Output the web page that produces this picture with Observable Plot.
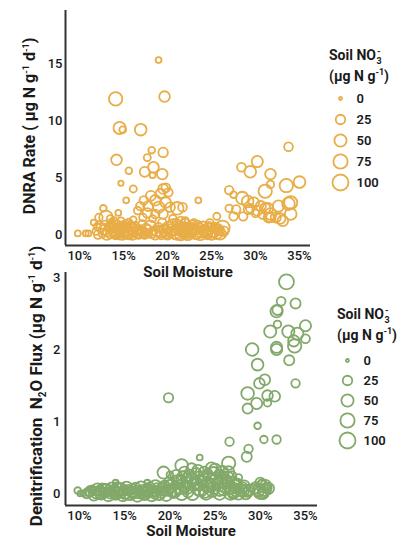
<!DOCTYPE html>
<html><head><meta charset="utf-8">
<script src="https://cdn.jsdelivr.net/npm/d3@7"></script>
<script src="https://cdn.jsdelivr.net/npm/@observablehq/plot@0.6"></script>
<style>
body{margin:0;background:#fff;}
#wrap{position:relative;width:414px;height:539px;overflow:hidden;font-family:Roboto,"Liberation Sans",sans-serif;color:#1a1a1a;}
.abs{position:absolute;}
svg{overflow:visible;}
.ltitle{font-weight:700;font-size:14px;line-height:16px;white-space:nowrap;}
.sup{position:relative;font-size:9px;top:-6px;margin-left:1px;}
.sub{position:relative;font-size:9px;top:4px;margin-left:-4px;}
.ltitle sup,.atitle sup{font-size:9px;line-height:0;}
.atitle{font-weight:700;font-size:15px;white-space:nowrap;line-height:16px;}
</style></head><body><div id="wrap"></div>
<script>
// ---------- data ----------
const moistureTicks = [10, 15, 20, 25, 30, 35];
const dnraTicks = [0, 5, 10, 15];
const n2oTicks = [0, 1, 2, 3];
const legendValues = [0, 25, 50, 75, 100];

const xTitle = "Soil Moisture";
const dnraTitle = "DNRA Rate ( μg N g<sup>-1</sup> d<sup>-1</sup>)";
const n2oTitle = "Denitrification&nbsp; N<sub style='font-size:10px;line-height:0'>2</sub>O Flux (μg N g<sup>-1</sup> d<sup>-1</sup>)";
const legendLine1 = 'Soil NO<span class="sup">-</span><span class="sub">3</span>';
const legendLine2 = '(μg N g<sup>-1</sup>)';

// [soil moisture %, DNRA rate, soil NO3]
const dnraHigh = [
 [18.98,15.3,5],[14.1,11.9,64],[19.66,12.1,35],[14.55,9.35,50],[14.9,9.2,8],[16.95,9.2,45],
 [14.2,6.55,35],[19.5,7.2,25],[18.2,7.4,8],[17.7,6.75,10],[15.6,5.6,8],[17.4,5.5,28],[18.4,5.9,35],
 [19.4,5.3,35],[18.3,5.2,5],[14.7,4.5,3],[16.1,4.0,10],[15.3,3.0,5],[19.5,4.0,28],[19.8,4.1,20],
 [20.1,3.7,18],[19.2,3.6,25],[18.1,3.4,28],[17.3,3.0,18],[18.6,3.0,35],[19.8,2.8,35],[16.9,2.5,18],
 [17.8,2.5,28],[19.0,2.4,40],[20.3,2.4,25],[21.1,2.3,55],[16.6,2.1,12],[17.7,1.9,25],[18.6,1.8,18],
 [19.5,1.8,25],[17.2,1.5,12],[18.3,1.4,10],[19.4,1.05,18],[20.6,1.4,12],[21.5,1.2,18],[22.0,1.2,12],
 [23.5,3.0,5],[21.7,2.4,20]
];
const dnraLeft = [
 [9.8,0.1,5],[10.7,0.1,5],[11.0,0.1,5],[12.7,2.3,8],[13.0,1.5,66],[12.2,1.5,12],[11.6,1.05,5],
 [13.5,1.4,10],[14.4,1.9,5],[13.9,1.2,12],[14.7,1.2,10],[15.6,1.1,8],[16.1,1.3,8],[15.2,0.6,10]
];
const dnraBand = [
 [11.9,0.3,12],[12.4,0.6,20],[12.6,0.1,15],[12.9,0.8,25],[13.2,0.3,30],[13.5,0.05,20],[13.7,0.6,35],
 [14.0,0.2,40],[14.2,0.9,20],[14.45,0.4,28],[14.6,0.0,30],[14.85,0.65,45],[15.0,0.2,35],[15.25,0.9,15],
 [15.4,0.35,50],[15.6,0.0,25],[15.85,0.5,30],[16.05,0.15,20],[16.3,0.75,15],[16.55,0.1,25],[16.8,0.45,20],
 [17.1,0.95,10],[17.25,0.2,30],[17.55,0.55,25],[17.8,0.1,15],[18.05,0.75,40],[18.35,0.3,20],[18.6,0.0,30],
 [18.95,0.6,25],[19.2,0.2,35],[19.55,0.5,20],[19.85,0.1,30],[20.1,0.65,40],[20.35,0.25,25],[20.6,0.9,30],
 [20.9,0.4,35],[21.1,0.05,45],[21.4,0.75,30],[21.7,0.3,40],[22.0,0.0,25],[22.25,0.6,35],[22.5,0.2,30],
 [22.8,0.85,20],[23.05,0.4,40],[23.3,0.05,30],[23.55,0.6,25],[23.8,0.2,35],[24.05,0.7,30],[24.3,0.3,45],
 [24.55,0.0,25],[24.8,0.5,35],[25.05,0.2,30],[25.35,0.65,20],[25.6,0.1,40],[25.9,0.35,25],[21.9,0.45,55],
 [23.0,1.0,15],[14.3,0.3,60],[16.0,0.5,45],[22.6,0.3,60],
 [12.1,0.0,18],[12.8,0.4,30],[13.1,0.0,35],[13.4,0.7,20],[13.9,0.4,45],[14.1,0.0,25],[14.6,0.5,40],
 [14.9,0.1,55],[15.1,0.6,25],[15.5,0.15,40],[15.7,0.7,20],[16.0,0.0,35],[16.4,0.35,30],[16.7,0.0,20],
 [17.0,0.3,25],[17.4,0.0,20],[17.7,0.4,30],[18.2,0.1,25],[18.8,0.3,35],[19.3,0.0,25],[19.7,0.35,45],
 [20.0,0.0,30],[20.5,0.4,50],[20.8,0.1,40],[21.2,0.5,35],[21.5,0.0,45],[21.9,0.2,30],[22.3,0.0,40],
 [22.7,0.5,45],[23.1,0.15,50],[23.4,0.8,25],[23.7,0.0,40],[24.0,0.4,30],[24.4,0.1,35],[24.7,0.7,25],
 [25.0,0.0,35],[25.3,0.3,45],[25.7,0.5,30],[26.0,0.05,40],[26.4,0.3,25],[22.0,0.9,35],[21.0,1.0,20],
 [24.8,1.0,15],[12.0,0.7,10],[13.6,1.0,15]
];
const dnraWet = [
 [33.75,7.7,20],[28.4,5.9,20],[29.4,5.5,45],[30.2,6.4,40],[31.7,5.3,35],[31.7,4.4,12],[31.1,3.8,64],
 [33.5,4.3,64],[35.0,4.6,45],[27.0,3.9,18],[27.5,3.5,8],[28.5,3.2,55],[29.1,2.9,45],[29.8,2.8,35],
 [27.8,2.2,18],[29.2,2.2,25],[30.2,2.1,30],[31.1,2.3,35],[31.7,1.8,45],[32.6,2.5,40],[33.75,2.7,55],
 [34.0,1.8,45],[32.8,1.4,35],[31.7,1.5,25],[30.8,1.75,18],[27.0,2.3,12],[27.5,1.6,18],[28.6,1.6,18],
 [30.0,1.85,12],[25.6,1.6,10],[26.25,0.6,75],[25.2,0.2,35],[24.5,0.35,20],[31.4,2.3,35],[32.3,1.5,30],
 [33.1,1.2,35],[31.5,1.5,30],[34.0,2.8,60],[30.6,2.5,30],[29.4,2.3,20]
];

// [soil moisture %, N2O flux, soil NO3]
const n2oUpper = [
 [32.9,2.94,85],[32.3,2.67,20],[33.9,2.64,30],[31.8,2.53,50],[31.9,2.55,30],[31.9,2.35,12],[31.1,2.25,50],
 [33.1,2.25,50],[35.0,2.33,40],[34.1,2.22,50],[35.0,2.15,20],[33.7,2.12,40],[33.8,2.05,64],[31.8,2.03,40],
 [31.8,2.0,40],[29.1,2.0,55],[29.7,1.79,45],[33.2,1.85,30],[30.5,1.58,35],[29.9,1.53,35],[33.9,1.53,18],
 [28.6,1.39,55],[30.8,1.36,35],[31.6,1.35,35],[29.6,1.25,40],[28.6,1.18,30],[30.8,1.26,12],[29.7,0.94,8],
 [30.4,0.75,12],[31.8,0.75,18],[26.6,0.72,18],[28.7,0.62,18],[28.5,0.51,30],[23.3,0.5,5],[26.5,0.42,64],
 [27.6,0.22,10],[19.85,1.33,24],[21.3,0.39,55],[19.3,0.29,50],[14.0,0.15,5],[17.5,0.15,5],[9.8,0.04,8],
 [10.1,0.0,5],[10.4,0.0,5],[20.0,0.26,8]
];
const n2oBand = [
 [11.0,0.02,15],[11.4,0.05,20],[11.8,0.0,25],[12.2,0.04,30],[12.6,0.01,25],[13.0,0.06,35],[13.4,0.0,30],
 [13.8,0.04,40],[14.2,0.02,30],[14.6,0.07,35],[15.0,0.0,40],[15.4,0.05,30],[15.8,0.02,35],[16.2,0.08,30],
 [16.6,0.01,40],[17.0,0.05,30],[17.4,0.02,35],[17.8,0.09,25],[18.2,0.03,40],[18.6,0.07,35],[19.0,0.01,30],
 [19.4,0.1,40],[19.8,0.04,35],[20.2,0.13,30],[20.5,0.02,45],[20.8,0.18,35],[21.1,0.07,40],[21.4,0.24,30],
 [21.7,0.1,45],[22.0,0.02,35],[22.3,0.2,40],[22.6,0.12,50],[22.9,0.28,35],[23.2,0.05,45],[23.5,0.17,40],
 [23.8,0.3,35],[24.1,0.1,50],[24.4,0.22,45],[24.7,0.03,40],[25.0,0.33,50],[25.3,0.15,45],[25.6,0.25,40],
 [25.9,0.06,50],[26.2,0.18,45],[26.5,0.3,40],[26.8,0.08,50],[27.1,0.02,45],[27.4,0.12,40],[27.8,0.05,50],
 [28.2,0.1,45],[28.6,0.03,40],[29.5,0.08,40],[30.0,0.15,30],[30.2,0.1,45],[30.5,0.05,50],[30.9,0.07,40],
 [30.4,0.02,35],[24.8,0.28,55],[27.0,0.0,35],[28.1,0.04,45],[30.2,0.14,18],[30.0,0.01,55],[30.7,0.08,30],
 [29.3,0.06,25],[25.5,0.05,50],[23.9,0.02,45],[22.4,0.35,30],[21.9,0.15,40],
 [10.8,0.0,25],[11.2,0.03,35],[11.6,-0.02,40],[12.0,0.06,45],[12.4,0.0,50],[12.8,0.05,45],[13.2,-0.02,55],
 [13.6,0.07,50],[14.0,0.0,55],[14.4,0.05,60],[14.8,-0.02,55],[15.2,0.08,50],[15.6,0.0,60],[16.0,0.04,55],
 [16.4,-0.03,50],[16.8,0.08,55],[17.2,0.0,60],[17.6,0.05,50],[18.0,-0.02,55],[18.4,0.1,50],[18.8,0.0,60],
 [19.2,0.06,55],[19.6,-0.02,50],[20.0,0.1,55],[20.4,0.05,60],[20.7,0.25,40],[21.0,0.15,55],[21.3,0.0,60],
 [21.6,0.3,35],[21.9,0.08,55],[22.2,0.25,45],[22.5,0.0,60],[22.8,0.15,55],[23.1,0.32,40],[23.4,0.05,60],
 [23.7,0.22,50],[24.0,0.0,55],[24.3,0.12,60],[24.6,0.35,45],[24.9,0.08,55],[25.2,0.2,60],[25.5,0.0,55],
 [25.8,0.3,45],[26.1,0.1,60],[26.4,0.22,50],[26.7,0.0,55],[27.0,0.15,45],[27.3,0.05,55],[27.6,0.0,50],
 [28.0,0.08,40],[28.4,0.0,45],[28.8,0.05,35],[29.8,0.04,45],[30.3,0.0,40],[30.6,0.12,30],[12.5,0.08,20],
 [14.2,0.09,25],[16.2,0.0,20],[18.3,0.04,30],[19.9,0.15,35],
 [11.1,0.01,12],[11.5,0.04,15],[11.9,0.02,10],[12.3,-0.01,18],[12.7,0.03,15],[13.1,0.02,20],[13.5,0.05,12],
 [13.9,-0.01,18],[14.3,0.03,20],[14.7,0.0,15],[15.1,0.04,22],[15.5,0.02,12],[15.9,-0.01,20],[16.3,0.05,15],
 [16.7,0.03,22],[17.1,-0.01,15],[17.5,0.06,20],[17.9,0.03,12],[18.3,-0.01,22],[18.7,0.04,15],[19.1,0.08,20],
 [19.5,0.02,12],[19.9,0.06,22],[20.3,0.0,18],[20.6,0.12,15],[21.2,0.2,22],[21.5,0.05,15],[21.8,0.22,20],
 [22.1,0.12,15],[22.7,0.2,22],[23.0,0.1,15],[23.3,0.25,20],[23.6,0.12,15],[24.2,0.28,22],[24.5,0.15,18],
 [25.1,0.1,20],[25.4,0.28,15],[25.7,0.15,22],[26.0,0.25,15],[26.3,0.05,20],[26.6,0.12,18],[26.9,0.25,15],
 [27.2,0.08,20],[27.5,0.15,15]
];

// ---------- drawing ----------
const orange = "#E8AD47";
const green = "#83A96A";
const axisColor = "#333";
const font = "Roboto, 'Liberation Sans', sans-serif";
const baseStyle = {fontFamily: font, fontSize: "13px", fontWeight: 500, color: "#1a1a1a", background: "transparent", overflow: "visible"};
const rScale = {type: "sqrt", domain: [0, 100], range: [1.5, 8]};
const pct = d => d + "%";

function panel({data, color, width, height, mb, xDomain, yDomain, yTicks, xPad, yPad}) {
  return Plot.plot({
    width, height, marginLeft: 65, marginRight: 10, marginTop: 10, marginBottom: mb,
    style: baseStyle,
    x: {domain: xDomain, ticks: moistureTicks, tickFormat: pct, tickSize: 0, tickPadding: xPad, label: null},
    y: {domain: yDomain, ticks: yTicks, tickFormat: d => String(d), tickSize: 0, tickPadding: yPad, label: null},
    r: rScale,
    marks: [
      Plot.dot(data, {x: d => d[0], y: d => d[1], r: d => d[2], stroke: color, strokeWidth: 1.8, fill: "none"}),
      Plot.ruleY([yDomain[0]], {stroke: axisColor, strokeWidth: 2}),
      Plot.ruleX([xDomain[0]], {stroke: axisColor, strokeWidth: 2})
    ]
  });
}

function legend(color, height) {
  return Plot.plot({
    width: 70, height, marginTop: 8, marginBottom: 8, marginLeft: 10, marginRight: 0,
    style: baseStyle,
    y: {type: "point", domain: legendValues, padding: 0, axis: null},
    r: rScale,
    marks: [
      Plot.dot(legendValues, {y: d => d, r: d => d, frameAnchor: "left", stroke: color, strokeWidth: 1.8, fill: "none"}),
      Plot.text(legendValues, {y: d => d, text: d => String(d), frameAnchor: "left", dx: 16, textAnchor: "start", fontSize: 13, fontWeight: 600, fill: "#1a1a1a"})
    ]
  });
}

const wrap = document.getElementById("wrap");
function place(el, left, top) {
  el.classList.add("abs");
  el.style.left = left + "px";
  el.style.top = top + "px";
  wrap.appendChild(el);
}
function legendTitle(left, top) {
  [legendLine1, legendLine2].forEach((html, i) => {
    const div = document.createElement("div");
    div.className = "ltitle";
    div.innerHTML = html;
    place(div, left, top + i * 21);
  });
}
function axisTitle(html, cx, cy, rotate, size) {
  const div = document.createElement("div");
  div.className = "atitle abs";
  div.innerHTML = html;
  div.style.fontSize = size + "px";
  div.style.left = cx + "px";
  div.style.top = cy + "px";
  div.style.transform = "translate(-50%,-50%)" + (rotate ? " rotate(-90deg)" : "");
  wrap.appendChild(div);
}

const topPlot = panel({
  data: [...dnraBand, ...dnraLeft, ...dnraWet, ...dnraHigh], color: orange,
  width: 320, height: 280, mb: 35, xDomain: [8.4, 36.25], yDomain: [-0.96, 19.65],
  yTicks: dnraTicks, xPad: 5, yPad: 3
});
place(topPlot, 0, 0);

const botPlot = panel({
  data: [...n2oBand, ...n2oUpper], color: green,
  width: 327, height: 277, mb: 34, xDomain: [8.45, 36.33], yDomain: [-0.167, 3.07],
  yTicks: n2oTicks, xPad: 5, yPad: 5
});
place(botPlot, 0, 262);

axisTitle(xTitle, 188, 272, false, 15);
axisTitle(dnraTitle, 30, 126, true, 16);
axisTitle(xTitle, 191, 531, false, 15);
axisTitle(n2oTitle, 36, 386, true, 17);

legendTitle(329, 47);
place(legend(orange, 100), 330, 90);
legendTitle(337, 306);
place(legend(green, 98), 337, 351);
</script></body></html>
